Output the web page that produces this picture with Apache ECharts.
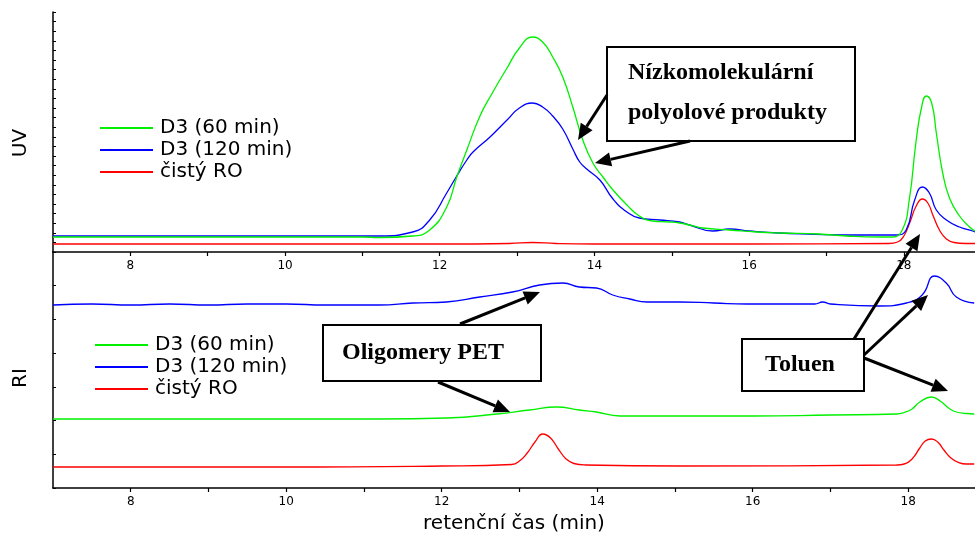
<!DOCTYPE html>
<html>
<head>
<meta charset="utf-8">
<script src="https://cdn.jsdelivr.net/npm/echarts@6/dist/echarts.min.js"></script>
<style>
html,body{margin:0;padding:0;background:#fff;}
#chart{width:975px;height:535px;}
</style>
</head>
<body>
<div id="chart"></div>
<script>
// ---- data (retention time in min, detector signal in arbitrary units) ----
const seriesNames = ['D3 (60 min)', 'D3 (120 min)', 'čistý RO'];
const seriesColors = ['#00f000', '#0000ff', '#ff0000'];
const xTickLabels = [8, 10, 12, 14, 16, 18];

// UV detector
const uv60 = [[7.0,15],[8.0,15],[9.0,15],[10.0,15],[11.0,15],[11.22,14.5],[11.65,16],[11.87,22],[12.09,45],[12.22,75],[12.35,102],[12.52,136],[12.68,159],[12.87,184],[13.03,204],[13.2,215],[13.33,210],[13.46,195],[13.59,175],[13.72,145],[13.85,112],[13.98,89],[14.11,75],[14.24,62],[14.42,47],[14.58,36],[14.75,31],[14.97,30],[15.1,29],[15.23,27],[15.4,24],[15.75,22],[16.1,20],[16.4,19],[16.9,18],[17.26,16],[17.7,15],[17.85,15],[17.98,22],[18.07,52],[18.16,112],[18.23,145],[18.29,156],[18.36,149],[18.42,119],[18.5,80],[18.59,54],[18.72,36],[18.85,25],[18.92,21]];
const uv120 = [[7.0,16],[8,16],[9,16],[10,16],[11,16],[11.22,16],[11.65,20],[11.87,32],[12.09,59],[12.22,76],[12.35,92],[12.43,100],[12.65,115],[12.87,132],[13.03,144],[13.2,149],[13.33,145],[13.46,136],[13.59,123],[13.72,103],[13.81,90],[13.9,83],[14.07,72],[14.24,53],[14.42,40],[14.58,34],[14.84,32],[15.1,30],[15.23,27],[15.53,21],[15.75,23],[16.0,21],[16.39,19],[17.26,17],[17.9,17],[18.03,22],[18.14,52],[18.24,65],[18.33,59],[18.42,42],[18.55,32],[18.72,25],[18.89,21],[18.92,20]];
const uvRO = [[7,8],[10,8],[12,8],[12.9,8.5],[13.2,9.5],[13.5,8.5],[14,8],[16,8],[17.8,8.5],[17.92,10],[18.0,16],[18.08,30],[18.16,46],[18.24,53],[18.31,49],[18.38,36],[18.46,22],[18.55,13],[18.65,9.5],[18.8,8.5],[18.92,8.5]];

// RI detector
const ri60 = [[7,69],[9,69],[11.2,69],[12.06,70],[12.71,74],[13.13,78],[13.48,81],[13.77,78],[13.99,76],[14.29,72],[14.64,72],[15.06,72],[16,72],[17,73],[17.85,74],[17.95,75.5],[18.05,79],[18.15,86],[18.3,91],[18.42,86.5],[18.52,80],[18.62,76],[18.75,74.5],[18.85,74]];
const ri120 = [[7,183],[7.5,184],[8,183],[8.5,184],[9,183],[9.5,184],[10,184],[10.5,183],[11.2,183],[11.63,185],[12.06,186],[12.49,191],[12.91,196],[13.26,203],[13.56,205],[13.77,201],[13.99,200],[14.2,193],[14.42,189],[14.64,186],[15.06,186],[15.5,185],[15.92,184],[16.4,184],[16.8,184],[16.9,186],[17.0,184],[17.63,182],[17.98,185],[18.18,193],[18.34,212],[18.49,205],[18.62,191],[18.85,185]];
const riRO = [[7,21],[10,21],[12,22],[12.9,23.5],[13.0,27],[13.1,35],[13.2,46],[13.3,54],[13.4,50],[13.5,39],[13.6,29],[13.7,24.5],[13.85,23],[15.06,22],[17.85,23],[17.95,24],[18.05,29],[18.15,40],[18.22,47],[18.3,49],[18.38,46],[18.46,38],[18.55,30],[18.65,25.5],[18.75,24],[18.85,24]];

const uvData = [uv60, uv120, uvRO];
const riData = [ri60, ri120, riRO];

// ---- annotations (text boxes with arrows) ----
const annotations = [
  {lines:['Nízkomolekulární','polyolové produkty'], box:[607,47,248,94], textX:628, lineY:[73,113], align:'left'},
  {lines:['Oligomery PET'], box:[323,325,218,56], textX:423, lineY:[353], align:'center'},
  {lines:['Toluen'], box:[742,339,122,52], textX:800, lineY:[365], align:'center'}
];
const arrows = [
  [[607,95],[578,140]],
  [[690,141],[595,163]],
  [[460,324],[540,292]],
  [[438,382],[510,412]],
  [[854,339],[920,234]],
  [[864,355],[928,295]],
  [[864,358],[948,391]]
];

const chart = echarts.init(document.getElementById('chart'), null, {renderer:'canvas'});

const sansFont = 'DejaVu Sans';
function xAxisCfg(gridIndex, max, withName) {
  const cfg = {
    type:'value', gridIndex, min:7, max:max, interval:1,
    axisLine:{show:true, onZero:false, lineStyle:{color:'#000', width:1.5}},
    axisTick:{show:true, inside:false, length:4, lineStyle:{color:'#000', width:1.2}},
    axisLabel:{show:true, margin:8, color:'#000', fontFamily:sansFont, fontSize:12,
      showMaxLabel:false, showMinLabel:false,
      formatter: v => (xTickLabels.indexOf(v) >= 0 ? String(v) : '')},
    splitLine:{show:false}
  };
  if (withName) {
    cfg.name = 'retenční čas (min)';
    cfg.nameLocation = 'middle';
    cfg.nameGap = 26;
    cfg.nameTextStyle = {color:'#000', fontFamily:sansFont, fontSize:20};
  }
  return cfg;
}
function yAxisCfg(gridIndex, max, interval, name, shift) {
  return {
    type:'value', gridIndex, min:0, max:max, interval:interval,
    name:name, nameLocation:'middle', nameRotate:90, nameGap:22,
    nameTextStyle:{color:'#000', fontFamily:sansFont, fontSize:20, padding:[0, shift, 0, 0]},
    axisLine:{show:true, lineStyle:{color:'#000', width:1.5}},
    axisTick:{show:true, inside:true, length:3, lineStyle:{color:'#000', width:1}},
    axisLabel:{show:false},
    splitLine:{show:false}
  };
}

const series = [];
seriesNames.forEach((n, i) => {
  series.push({name:n, type:'line', xAxisIndex:0, yAxisIndex:0, data:uvData[i],
    smooth:0.5, showSymbol:false, symbol:'none', color:seriesColors[i],
    lineStyle:{width:1.3, color:seriesColors[i]}, itemStyle:{color:seriesColors[i]}, z:2 + (2 - i)});
});
seriesNames.forEach((n, i) => {
  series.push({name:n, type:'line', xAxisIndex:1, yAxisIndex:1, data:riData[i],
    smooth:0.5, showSymbol:false, symbol:'none', color:seriesColors[i],
    lineStyle:{width:1.3, color:seriesColors[i]}, itemStyle:{color:seriesColors[i]}, z:2});
});

function legendCfg(left, top) {
  return {
    show:true, orient:'vertical', left:left, top:top, padding:0, itemGap:0,
    icon:'rect', itemWidth:53, itemHeight:2,
    data:seriesNames,
    textStyle:{color:'#000', fontFamily:sansFont, fontSize:20, lineHeight:22, padding:[0,0,0,2]},
    selectedMode:true
  };
}

// build annotation graphics
const graphics = [];
annotations.forEach(a => {
  graphics.push({type:'rect', shape:{x:a.box[0], y:a.box[1], width:a.box[2], height:a.box[3]},
    style:{fill:'#fff', stroke:'#000', lineWidth:2}, z:100});
  a.lines.forEach((t, k) => {
    graphics.push({type:'text', x:a.textX, y:a.lineY[k], z:101,
      style:{text:t, fill:'#000', font:'bold 24px "Liberation Serif", "Times New Roman", serif',
        textAlign:a.align, textVerticalAlign:'middle'}});
  });
});
arrows.forEach(([s, e]) => {
  const dx = e[0]-s[0], dy = e[1]-s[1];
  const len = Math.sqrt(dx*dx + dy*dy);
  const ux = dx/len, uy = dy/len;
  const hl = 16, hw = 7;
  const bx = e[0]-ux*hl, by = e[1]-uy*hl;
  graphics.push({type:'line', shape:{x1:s[0], y1:s[1], x2:bx, y2:by},
    style:{stroke:'#000', lineWidth:3}, z:102});
  graphics.push({type:'polygon', shape:{points:[[e[0],e[1]],[bx-uy*hw, by+ux*hw],[bx+uy*hw, by-ux*hw]]},
    style:{fill:'#000'}, z:102});
});

chart.setOption({
  animation:false,
  backgroundColor:'#fff',
  grid:[
    {left:53, right:0, top:12, height:240, containLabel:false},
    {left:53, right:0, top:252, height:236, containLabel:false}
  ],
  xAxis:[xAxisCfg(0, 18.92, false), xAxisCfg(1, 18.86, true)],
  yAxis:[yAxisCfg(0, 240, 9.6, 'UV', 22), yAxisCfg(1, 236, 236/7, 'RI', 16)],
  legend:[legendCfg(100, 117), legendCfg(95, 334)],
  series:series,
  graphic:graphics
});
</script>
</body>
</html>
